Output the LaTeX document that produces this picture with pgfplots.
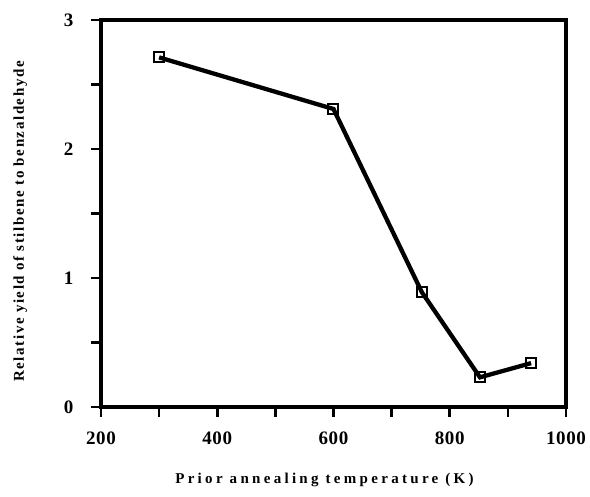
\documentclass[border=0pt]{standalone}
\usepackage{fontspec}
\setmainfont{Liberation Serif}
\usepackage{pgfplots}
\pgfplotsset{compat=1.18}

\begin{document}
\begin{tikzpicture}[x=1pt,y=1pt]
\begin{axis}[
  scale only axis, width=465pt, height=387pt,
  at={(0,0)}, anchor=south west,
  xmin=200, xmax=1000, ymin=0, ymax=3,
  xtick={200,400,...,1000}, minor xtick={300,500,700,900},
  ytick={0,1,2,3}, minor ytick={0.5,1.5,2.5},
  tick align=outside, tick pos=left,
  major tick length=10pt, minor tick length=10pt,
  tick style={black, line width=2.6pt},
  separate axis lines,
  axis line style={line width=3.3pt, line cap=rect},
  /pgf/number format/assume math mode=true,
  /pgf/number format/1000 sep={},
  tick label style={font=\bfseries\fontsize{19}{19}\selectfont\addfontfeatures{LetterSpace=3}},
  xticklabel style={yshift=-11pt},
  yticklabel style={xshift=-14pt},
  xlabel={Prior annealing temperature (K)},
  ylabel={Relative yield of stilbene to benzaldehyde},
  xlabel style={yshift=-22pt, xshift=-9pt, font=\bfseries\fontsize{15}{15}\selectfont\addfontfeatures{LetterSpace=22}},
  ylabel style={yshift=30pt, xshift=-8pt, font=\bfseries\fontsize{15}{15}\selectfont\addfontfeatures{LetterSpace=10.5}},
]
\addplot[black, line width=4.3pt, mark=square, mark size=5pt,
  mark options={line width=2pt, fill=white, solid}] coordinates {
  (300,2.71) (600,2.31) (752,0.89) (852,0.23) (940,0.34)
};
\end{axis}
\pgfresetboundingbox
\path (-101pt,-90pt) rectangle (489pt,407pt);
\end{tikzpicture}
\end{document}
